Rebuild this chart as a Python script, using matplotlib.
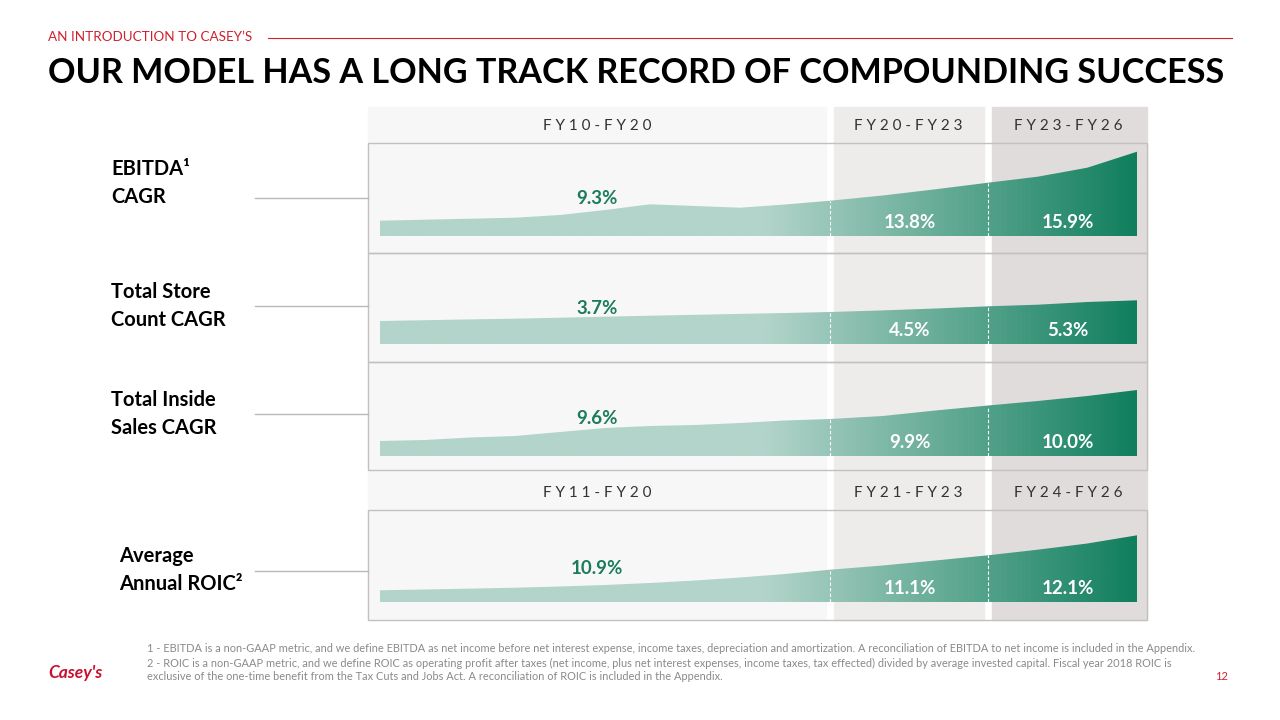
import numpy as np
import matplotlib.pyplot as plt
from matplotlib.colors import LinearSegmentedColormap
from matplotlib.patches import Rectangle

plt.rcParams['font.family'] = ['Lato', 'DejaVu Sans']

# data (relative index heights)
years = np.arange(2010, 2027)
ebitda = [15.3, 16.3, 17.3, 18.3, 21.0, 26.0, 31.7, 30.0, 28.3, 31.5, 35.3,
          40.5, 46.7, 53.3, 59.3, 68.3, 84.3]
stores = [23.0, 23.8, 24.6, 25.3, 26.3, 27.3, 28.3, 29.2, 30.1, 31.0, 32.0,
          33.6, 35.5, 37.7, 39.3, 42.0, 43.7]
inside = [15.0, 16.0, 18.5, 20.0, 24.0, 28.0, 30.0, 31.0, 33.0, 35.5, 37.0,
          40.0, 45.5, 50.5, 55.0, 60.0, 66.0]
roic = [11.7, 12.5, 13.4, 14.3, 15.5, 17.0, 19.0, 21.5, 24.5, 28.0, 32.3,
        36.5, 41.5, 46.7, 52.3, 58.5, 66.7]
series = [ebitda, stores, inside, roic]

row_labels = ["EBITDA\u00b9\nCAGR", "Total Store\nCount CAGR",
              "Total Inside\nSales CAGR", "Average\nAnnual ROIC\u00b2"]
cagr_hist = ["9.3%", "3.7%", "9.6%", "10.9%"]
cagr_mid = ["13.8%", "4.5%", "9.9%", "11.1%"]
cagr_plan = ["15.9%", "5.3%", "10.0%", "12.1%"]
periods_top = ["FY10-FY20", "FY20-FY23", "FY23-FY26"]
periods_bottom = ["FY11-FY20", "FY21-FY23", "FY24-FY26"]
footnotes = [
    "1 - EBITDA is a non-GAAP metric, and we define EBITDA as net income before net interest expense, income taxes, "
    "depreciation and amortization. A reconciliation of EBITDA to net income is included in the Appendix.",
    "2 - ROIC is a non-GAAP metric, and we define ROIC as operating profit after taxes (net income, plus net interest "
    "expenses, income taxes, tax effected) divided by average invested capital. Fiscal year 2018 ROIC is",
    "exclusive of the one-time benefit from the Tax Cuts and Jobs Act. A reconciliation of ROIC is included in the Appendix.",
]

W, H = 1280, 720
fig = plt.figure(figsize=(12.8, 7.2), dpi=100)
ax = fig.add_axes([0, 0, 1, 1])
ax.axis('off')

RED = '#d0202e'
GREEN = '#1b7b5b'


def xpos(yr):
    return np.interp(yr, [2010, 2020, 2023, 2026], [380, 830, 988, 1137])


def spaced(s):
    return " ".join(s)


# column backgrounds
ax.add_patch(Rectangle((368, 107), 458, 513, color='#f7f7f7', zorder=0))
ax.add_patch(Rectangle((834, 107), 150, 513, color='#edeceb', zorder=0))
ax.add_patch(Rectangle((992, 107), 155, 513, color='#e1dcdc', zorder=0))

boxes = [(143, 253), (253, 362), (362, 470), (510, 620)]
for top, bot in boxes:
    ax.add_patch(Rectangle((368, top), 779, bot - top, fill=False,
                           edgecolor='#c4c0c0', lw=1, zorder=1))

# flat light mint up to ~FY18, then fading to dark green
cmap = LinearSegmentedColormap.from_list('g', [(0, '#b3d4ca'), (0.5, '#b3d4ca'), (1, '#117f5e')])
xs = np.linspace(380, 1137, 400)
grad = np.where(xs < 765, 0.5 * (xs - 380) / 385, 0.5 + 0.5 * (xs - 765) / 372)[None, :]

baselines = [236, 344, 456, 602]
hist_y = [199, 309, 418, 568]
conn_y = [198, 306, 414, 571]
label_y = [183, 306, 414, 570]
label_x = [111, 111, 111, 119]

for i, vals in enumerate(series):
    base = baselines[i]
    vals = np.array(vals)
    x = xpos(years)
    coll = ax.fill_between(x, base, base - vals, facecolor='none', edgecolor='none')
    im = ax.imshow(grad, cmap=cmap, vmin=0, vmax=1, aspect='auto',
                   extent=(380, 1137, base, base - vals.max() - 2),
                   interpolation='bilinear', zorder=2)
    im.set_clip_path(coll.get_paths()[0], transform=ax.transData)
    for yr in (2020, 2023):
        xv = xpos(yr)
        ax.plot([xv, xv], [base, base - np.interp(yr, years, vals)],
                color='white', lw=0.8, ls=(0, (3, 2)), zorder=3)
    ax.text(597, hist_y[i], cagr_hist[i], color=GREEN, fontsize=13.5,
            fontweight='bold', ha='center', va='center', zorder=4)
    ax.text(910, base - 14, cagr_mid[i], color='white', fontsize=13.5,
            fontweight='bold', ha='center', va='center', zorder=4)
    ax.text(1068, base - 14, cagr_plan[i], color='white', fontsize=13.5,
            fontweight='bold', ha='center', va='center', zorder=4)
    ax.plot([255, 368], [conn_y[i], conn_y[i]], color='#b8b8b8', lw=1, zorder=1)
    ax.text(label_x[i], label_y[i], row_labels[i], fontsize=14.5,
            fontweight='bold', ha='left', va='center', linespacing=1.45)

for labels, yy in ((periods_top, 126), (periods_bottom, 493)):
    for lab, xc in zip(labels, (597, 908, 1068)):
        ax.text(xc, yy, spaced(lab), fontsize=11, color='#333333',
                ha='center', va='center', zorder=4)

# header
ax.text(48, 37, "AN INTRODUCTION TO CASEY\u2019S", color=RED, fontsize=9.7,
        ha='left', va='center')
ax.plot([268, 1232], [38, 38], color=RED, lw=0.8)
ax.text(48, 73, "OUR MODEL HAS A LONG TRACK RECORD OF COMPOUNDING SUCCESS",
        fontsize=24.6, fontweight='bold', ha='left', va='center')

# footer
for line, yy in zip(footnotes, (648, 663, 677)):
    ax.text(147, yy, line, fontsize=7.9, color='#8a8a8a', ha='left', va='center')
ax.text(1228, 677, "12", fontsize=8, color=RED, ha='right', va='center')
ax.text(48, 673, "Casey's", fontsize=12.5, color='#c8102e', fontweight='bold',
        fontstyle='italic', ha='left', va='center')

ax.set_xlim(0, W)
ax.set_ylim(H, 0)
fig.savefig('out.png', dpi=100)
